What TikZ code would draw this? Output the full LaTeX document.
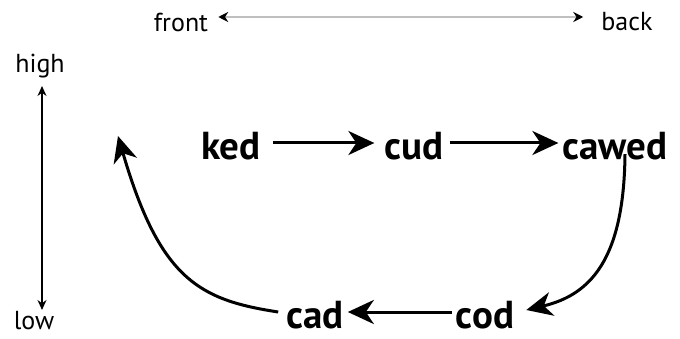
\documentclass[tikz,border=0pt]{standalone}
\usepackage{fontspec}
\setmainfont{PT Sans}
\usetikzlibrary{arrows.meta}
\begin{document}
\begin{tikzpicture}[x=1pt,y=-1pt,
  word/.style={font=\fontsize{39}{44}\selectfont\bfseries, inner sep=0pt},
  lab/.style={font=\fontsize{26}{30}\selectfont, inner sep=0pt},
  flow/.style={line width=3pt, -{Stealth[length=26pt,width=24pt,inset=8pt]}},
  axis/.style={line width=1.2pt, {Stealth[length=10pt,width=9pt]}-{Stealth[length=10pt,width=9pt]}},
  gaxis/.style={draw=gray!50, line width=2.6pt, {Stealth[length=10pt,width=10pt,black]}-{Stealth[length=10pt,width=10pt,black]}}]
\useasboundingbox (0,0) rectangle (680,339);
\node[lab] (front) at (181,22) {front};
\node[lab] (back) at (627,22) {back};
\node[lab] (high) at (40,66) {high};
\node[lab] (low) at (34,321) {low};
\coordinate (ha) at (42,86);
\coordinate (la) at (42,310);
\draw[gaxis] ([xshift=10pt,yshift=5pt]front.east) -- ([xshift=-18pt,yshift=5pt]back.west);
\draw[axis] (ha) -- (la);
\node[word] (ked) at (231,146) {ked};
\node[word] (cud) at (414,146) {cud};
\node[word] (cawed) at (615,146) {cawed};
\node[word] (cod) at (485,315) {cod};
\node[word] (cad) at (315,315) {cad};
\coordinate (tl) at (118,136);
\draw[flow] ([xshift=12pt,yshift=3pt]ked.east) -- ([xshift=-10pt,yshift=3pt]cud.west);
\draw[flow] ([xshift=6pt,yshift=3pt]cud.east) -- ([xshift=-4pt,yshift=3pt]cawed.west);
\draw[flow] ([xshift=10pt,yshift=6pt]cawed.south) .. controls (624,260) and (590,295) .. ([xshift=12pt,yshift=5pt]cod.east);
\draw[flow] ([xshift=-4pt,yshift=3pt]cod.west) -- ([xshift=4pt,yshift=3pt]cad.east);
\draw[flow] ([xshift=-8pt,yshift=3pt]cad.west) .. controls (200,300) and (160,280) .. (tl);
\end{tikzpicture}
\end{document}
